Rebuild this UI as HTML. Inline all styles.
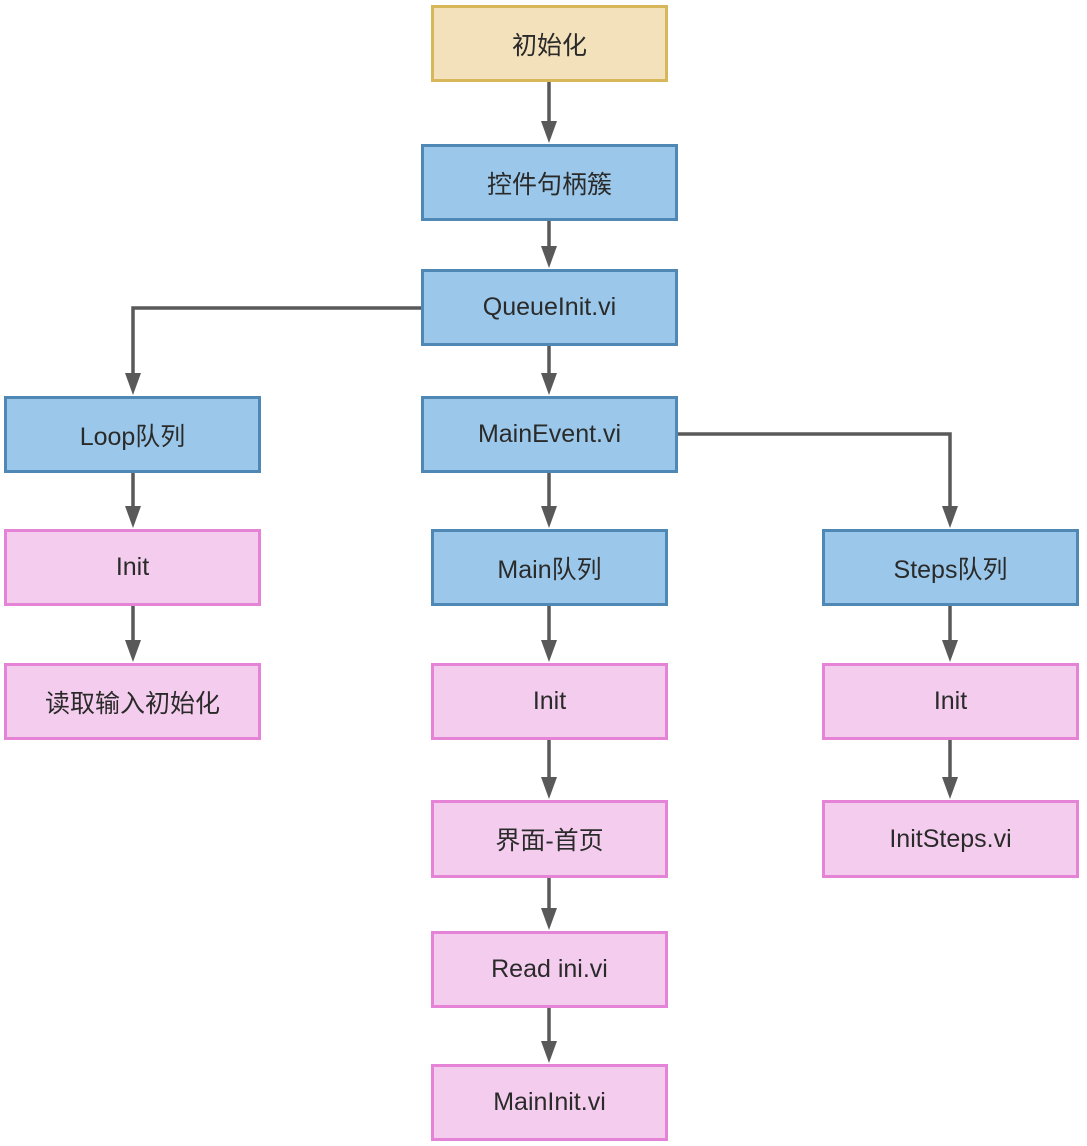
<!DOCTYPE html>
<html><head><meta charset="utf-8"><style>
html,body{margin:0;padding:0;background:#fff;}
body{width:1087px;height:1146px;position:relative;overflow:hidden;font-family:"Liberation Sans","Noto Sans CJK SC",sans-serif;}
.b{position:absolute;box-sizing:border-box;border:3px solid;display:flex;align-items:center;justify-content:center;font-size:25px;color:#2a2a2a;}
.y{background:#f3e1bb;border-color:#d8b65a;}
.u{background:#9bc8ea;border-color:#4f88b5;}
.p{background:#f4cdee;border-color:#e583d6;}
svg{position:absolute;left:0;top:0;}
</style></head><body>
<svg width="1087" height="1146">
<defs><marker id="a" markerWidth="8" markerHeight="10" refX="4" refY="9" orient="auto" markerUnits="userSpaceOnUse" viewBox="0 0 8 10"></marker></defs>
<g stroke="#595959" stroke-width="3.5" fill="none">
<path d="M549 81V125"/><path d="M549 220V250"/><path d="M549 345V378"/>
<path d="M422 308H133V378"/><path d="M549 472V510"/>
<path d="M677 434H950V510"/><path d="M133 472V510"/><path d="M133 605V644"/>
<path d="M549 605V644"/><path d="M549 739V781"/><path d="M549 877V912"/><path d="M549 1007V1045"/>
<path d="M950 605V644"/><path d="M950 739V781"/>
</g>
<g fill="#595959">
<path d="M541 121H557L549 143Z"/><path d="M541 246H557L549 268Z"/><path d="M541 373H557L549 395Z"/>
<path d="M125 373H141L133 395Z"/><path d="M541 506H557L549 528Z"/><path d="M942 506H958L950 528Z"/>
<path d="M125 506H141L133 528Z"/><path d="M125 640H141L133 662Z"/>
<path d="M541 640H557L549 662Z"/><path d="M541 777H557L549 799Z"/><path d="M541 908H557L549 930Z"/><path d="M541 1041H557L549 1063Z"/>
<path d="M942 640H958L950 662Z"/><path d="M942 777H958L950 799Z"/>
</g>
</svg>
<div class="b y" style="left:431px;top:5px;width:237px;height:77px">初始化</div>
<div class="b u" style="left:421px;top:144px;width:257px;height:77px">控件句柄簇</div>
<div class="b u" style="left:421px;top:269px;width:257px;height:77px">QueueInit.vi</div>
<div class="b u" style="left:4px;top:396px;width:257px;height:77px">Loop队列</div>
<div class="b u" style="left:421px;top:396px;width:257px;height:77px">MainEvent.vi</div>
<div class="b p" style="left:4px;top:529px;width:257px;height:77px">Init</div>
<div class="b p" style="left:4px;top:663px;width:257px;height:77px">读取输入初始化</div>
<div class="b u" style="left:431px;top:529px;width:237px;height:77px">Main队列</div>
<div class="b u" style="left:822px;top:529px;width:257px;height:77px">Steps队列</div>
<div class="b p" style="left:431px;top:663px;width:237px;height:77px">Init</div>
<div class="b p" style="left:822px;top:663px;width:257px;height:77px">Init</div>
<div class="b p" style="left:431px;top:800px;width:237px;height:78px">界面-首页</div>
<div class="b p" style="left:822px;top:800px;width:257px;height:78px">InitSteps.vi</div>
<div class="b p" style="left:431px;top:931px;width:237px;height:77px">Read ini.vi</div>
<div class="b p" style="left:431px;top:1064px;width:237px;height:77px">MainInit.vi</div>
</body></html>
